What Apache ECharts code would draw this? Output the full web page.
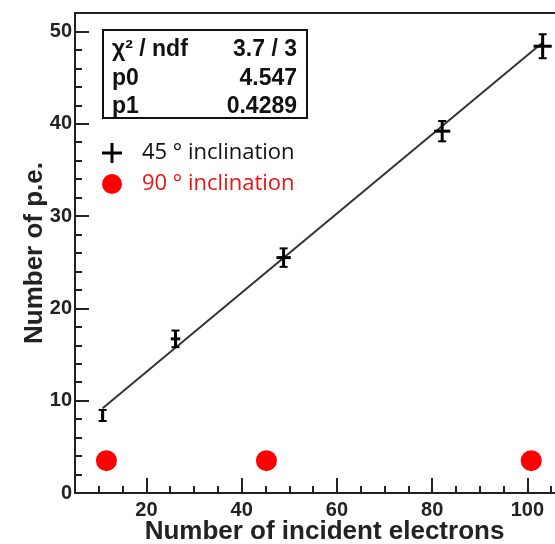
<!DOCTYPE html>
<html>
<head>
<meta charset="utf-8">
<script src="https://cdn.jsdelivr.net/npm/echarts@6/dist/echarts.min.js"></script>
<style>
html,body{margin:0;padding:0;background:#fff;}
#chart{width:555px;height:544px;}
</style>
</head>
<body>
<div id="chart"></div>
<script>
// 45 degree inclination measurements: x, y, x error, y error
const inc45X = [10.8, 26.1, 48.8, 82.1, 103.2];
const inc45Y = [8.4, 16.7, 25.5, 39.2, 48.4];
const inc45XErr = [0.3, 1.0, 1.5, 1.7, 1.9];
const inc45YErr = [0.6, 0.9, 1.0, 1.1, 1.3];
// 90 degree inclination measurements
const inc90X = [11.6, 45.2, 100.8];
const inc90Y = [3.5, 3.5, 3.5];
// fit parameters
const fitP0 = 4.547;
const fitP1 = 0.4289;
const fitRange = [10.8, 103.2];
const statLabels = ['\u03c7\u00b2 / ndf', 'p0', 'p1'];
const statValues = ['3.7 / 3', '4.547', '0.4289'];
const xMajorTicks = [20, 40, 60, 80, 100];

const crossData = inc45X.map((x, i) => [x, inc45Y[i], inc45XErr[i], inc45YErr[i]]);
const redData = inc90X.map((x, i) => [x, inc90Y[i]]);
const fitData = fitRange.map(x => [x, fitP0 + fitP1 * x]);

const chart = echarts.init(document.getElementById('chart'));
const axisCol = '#222';
const boldFont = 'Liberation Sans';

const option = {
  animation: false,
  backgroundColor: '#fff',
  grid: {left: 75, top: 13, width: 481, height: 480, outerBoundsMode: 'none', containLabel: false, show: false},
  xAxis: [{
    type: 'value', min: 5, max: 106, position: 'bottom',
    axisLine: {show: true, onZero: false, lineStyle: {color: axisCol, width: 2}},
    axisTick: {show: true, inside: true, length: 15, lineStyle: {color: axisCol, width: 2}, customValues: xMajorTicks},
    axisLabel: {show: true, customValues: xMajorTicks, color: axisCol, fontFamily: boldFont, fontWeight: 'bold', fontSize: 20, margin: 7},
    splitLine: {show: false},
    name: 'Number of incident electrons', nameLocation: 'middle', nameGap: 26, nameMoveOverlap: false,
    nameTextStyle: {color: axisCol, fontFamily: boldFont, fontWeight: 'bold', fontSize: 26, padding: [0, 0, 0, 18]}
  }, {
    type: 'value', min: 5, max: 106, interval: 5, position: 'bottom',
    axisLine: {show: false, onZero: false},
    axisTick: {show: true, inside: true, length: 7, lineStyle: {color: axisCol, width: 2}},
    axisLabel: {show: false},
    splitLine: {show: false}
  }, {
    type: 'value', min: 5, max: 106, position: 'top',
    axisLine: {show: true, onZero: false, lineStyle: {color: axisCol, width: 2}},
    axisTick: {show: false},
    axisLabel: {show: false},
    splitLine: {show: false}
  }],
  yAxis: {
    type: 'value', min: 0, max: 52, interval: 10,
    axisLine: {show: true, onZero: false, lineStyle: {color: axisCol, width: 2}},
    axisTick: {show: true, inside: true, length: 14, lineStyle: {color: axisCol, width: 2}},
    minorTick: {show: true, splitNumber: 5, length: 7, lineStyle: {color: axisCol, width: 2}},
    axisLabel: {color: axisCol, fontFamily: boldFont, fontWeight: 'bold', fontSize: 20, margin: 3},
    splitLine: {show: false},
    name: 'Number of p.e.', nameLocation: 'middle', nameGap: 27, nameRotate: 90, nameMoveOverlap: false,
    nameTextStyle: {color: axisCol, fontFamily: boldFont, fontWeight: 'bold', fontSize: 26}
  },
  legend: {
    orient: 'vertical', left: 102, top: 142, padding: 0, itemWidth: 20, itemHeight: 20, itemGap: 9,
    textStyle: {fontFamily: 'Open Sans', fontSize: 22, color: '#111', padding: [0, 0, 0, 15]},
    data: [
      {name: '45 \u00b0 inclination', icon: 'path://M8.5,0h3v20h-3z M0,8.5h20v3h-20z', itemStyle: {color: '#000'}},
      {name: '90 \u00b0 inclination', icon: 'circle', itemStyle: {color: '#ff0000', opacity: 1}, textStyle: {color: '#ee1111'}}
    ]
  },
  series: [
    {
      name: 'fit', type: 'line', xAxisIndex: 0, data: fitData, showSymbol: false, symbol: 'none',
      lineStyle: {color: '#333', width: 2}, z: 2, silent: true
    },
    {
      name: '45 \u00b0 inclination', type: 'custom', xAxisIndex: 0, data: crossData, z: 3,
      itemStyle: {color: '#000'},
      renderItem: function (params, api) {
        const x = api.value(0), y = api.value(1), xe = api.value(2), ye = api.value(3);
        const l = api.coord([x - xe, y]), r = api.coord([x + xe, y]);
        const t = api.coord([x, y + ye]), b = api.coord([x, y - ye]);
        const st = {stroke: '#000', lineWidth: 3};
        const cap = 4;
        return {type: 'group', children: [
          {type: 'line', shape: {x1: l[0], y1: l[1], x2: r[0], y2: r[1]}, style: st},
          {type: 'line', shape: {x1: t[0], y1: t[1], x2: b[0], y2: b[1]}, style: st},
          {type: 'line', shape: {x1: t[0] - cap, y1: t[1], x2: t[0] + cap, y2: t[1]}, style: {stroke: '#000', lineWidth: 2}},
          {type: 'line', shape: {x1: b[0] - cap, y1: b[1], x2: b[0] + cap, y2: b[1]}, style: {stroke: '#000', lineWidth: 2}}
        ]};
      }
    },
    {
      name: '90 \u00b0 inclination', type: 'scatter', xAxisIndex: 0, data: redData, symbol: 'circle', symbolSize: 21,
      itemStyle: {color: '#ff0000', opacity: 1}, z: 4
    }
  ],
  graphic: [
    {type: 'rect', shape: {x: 103, y: 30, width: 204, height: 88}, style: {fill: '#fff', stroke: '#111', lineWidth: 2}, z: 10},
    ...statLabels.map((s, i) => ({type: 'text', x: 112, y: 50 + i * 28.5, z: 11,
      style: {text: s, fontFamily: boldFont, fontWeight: 'bold', fontSize: 23, fill: '#111', textVerticalAlign: 'middle', textAlign: 'left'}})),
    ...statValues.map((s, i) => ({type: 'text', x: 297, y: 50 + i * 28.5, z: 11,
      style: {text: s, fontFamily: boldFont, fontWeight: 'bold', fontSize: 23, fill: '#111', textVerticalAlign: 'middle', textAlign: 'right'}}))
  ]
};
chart.setOption(option);
</script>
</body>
</html>
